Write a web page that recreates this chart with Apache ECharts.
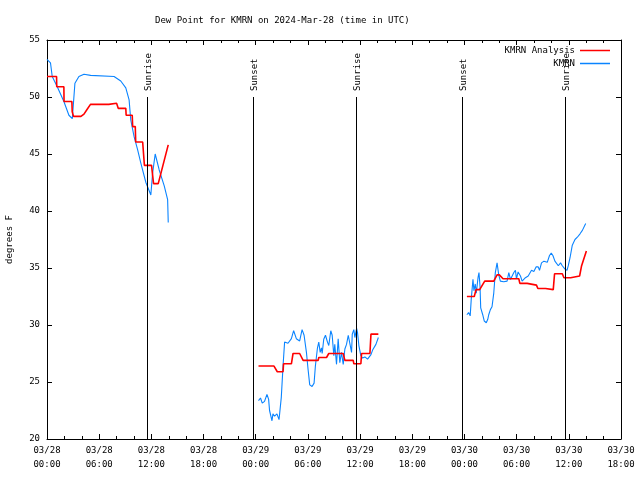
<!DOCTYPE html>
<html>
<head>
<meta charset="utf-8">
<script src="https://cdn.jsdelivr.net/npm/echarts@6/dist/echarts.min.js"></script>
<style>html,body{margin:0;padding:0;background:#fff}#c{width:640px;height:480px}</style>
</head>
<body>
<div id="c"></div>
<script>
// hours since 2024-03-28 00:00 UTC
const anaHours = [0,1.10,1.12,1.94,1.96,2.86,2.90,3.05,3.9,4.25,4.6,5.0,7.1,7.3,8.0,8.2,9.06,9.1,9.8,9.85,10.15,10.2,11.0,11.2,12.02,12.25,12.79,13.94,
  19,
  24.32,26.10,26.48,27.14,27.2,28.10,28.29,29.05,29.45,31.18,31.25,32.14,32.40,34.06,34.25,35.21,35.28,36.09,36.17,37.13,37.25,38.10,
  43,
  48.28,49.13,49.33,49.75,50.33,51.37,51.75,52.01,52.44,54.25,54.37,55.21,55.27,56.28,56.44,57.32,57.40,58.21,58.36,59.25,59.44,60.21,60.40,61.24,61.47,62.02];
const anaTemps = [51.8,51.8,50.9,50.9,49.6,49.6,48.7,48.3,48.3,48.5,48.9,49.35,49.35,49.45,49.45,49.0,49.0,48.4,48.4,47.4,47.4,46.05,46.05,44.0,44.0,42.4,42.4,45.8,
  null,
  26.4,26.4,25.9,25.9,26.6,26.6,27.5,27.5,26.9,26.9,27.15,27.15,27.5,27.5,26.9,26.9,26.6,26.6,27.5,27.5,29.2,29.2,
  null,
  32.5,32.5,33.1,33.1,33.85,33.85,34.4,34.4,34.06,34.06,33.65,33.65,33.5,33.5,33.2,33.2,33.1,33.1,34.5,34.5,34.15,34.15,34.3,34.3,35.2,36.5];

const obsHours = [0,0.40,0.60,1.18,1.94,2.52,2.91,3.09,3.21,3.67,4.25,5.02,7.71,8.48,9.06,9.44,9.63,10.02,10.41,10.79,11.37,11.94,12.14,12.44,12.90,13.48,13.87,13.94,
  19,
  24.32,24.55,24.75,25.01,25.29,25.48,25.59,25.87,25.98,26.17,26.44,26.68,26.79,26.94,27.14,27.32,27.71,28.10,28.36,28.67,29.05,29.33,29.56,29.83,30.02,30.21,30.48,30.71,30.86,31.10,31.25,31.41,31.56,31.64,31.82,32.02,32.25,32.40,32.63,32.79,32.98,33.09,33.29,33.48,33.67,33.86,34.06,34.25,34.44,34.64,34.82,35.02,35.10,35.28,35.40,35.60,35.71,35.86,36.09,36.29,36.55,36.86,37.01,37.25,37.44,37.64,37.82,38.10,
  43,
  48.28,48.48,48.66,48.78,48.98,49.09,49.24,49.36,49.56,49.67,49.79,49.87,50.10,50.28,50.51,50.68,50.79,50.98,51.17,51.37,51.55,51.75,51.94,52.13,52.52,52.90,53.10,53.29,53.48,53.68,53.86,53.98,54.17,54.44,54.63,55.01,55.33,55.48,55.71,55.98,56.25,56.48,56.63,56.86,57.14,57.32,57.52,57.78,57.98,58.17,58.40,58.59,58.79,59.05,59.25,59.44,59.56,59.79,59.94,60.14,60.40,60.71,60.98,61.29,61.56,61.94];
const obsTemps = [53.3,53.0,51.8,50.9,49.6,48.4,48.1,48.1,51.2,51.8,52.0,51.9,51.8,51.4,50.8,49.75,48.0,46.5,45.4,44.2,42.5,41.4,43.3,45.0,43.6,42.2,41.0,39.0,
  null,
  23.36,23.6,23.15,23.3,23.9,23.5,22.5,21.6,22.2,22.0,22.2,21.7,21.55,23.65,26.4,28.5,28.4,28.8,29.5,28.8,28.6,29.6,29.1,27.6,26.1,24.75,24.6,24.9,26.4,28.0,28.5,27.6,28.0,27.5,28.75,29.1,28.5,28.2,29.5,29.1,27.3,28.3,26.55,28.8,26.7,27.6,26.55,27.9,28.3,29.1,29.2,27.6,29.2,29.6,28.9,29.7,29.3,28.2,27.3,27.1,27.2,27.0,26.9,27.4,27.8,27.7,28.3,28.9,
  null,
  30.9,31.1,30.8,32.25,34.0,33.0,33.6,32.8,34.15,34.6,33.4,31.5,30.9,30.35,30.2,30.5,30.9,31.35,31.6,32.8,34.6,35.45,34.4,33.85,33.8,33.85,34.6,34.0,34.05,34.6,34.8,34.05,34.65,34.3,33.85,34.15,34.3,34.15,34.8,34.7,35.1,35.1,34.8,35.45,35.6,35.75,35.5,36.1,36.3,36.1,35.6,35.75,35.2,35.45,35.2,35.3,34.9,34.8,35.2,35.9,37.0,37.5,37.7,38.0,38.3,38.9];

const sunHours = [11.48, 23.65, 35.5, 47.75, 59.6];
const sunLabels = ['Sunrise','Sunset','Sunrise','Sunset','Sunrise'];
const sunLineTop = 50;

const FONT = 'DejaVu Sans Mono';
const FS = 9;

function zip(xs, ys){ return xs.map((x,i)=>[x, ys[i]===null ? '-' : ys[i]]); }
function xLabel(v){
  const day = 28 + Math.floor(v/24);
  const hh = v % 24;
  return '03/' + day + '\n' + (hh<10?'0':'') + hh + ':00';
}

const chart = echarts.init(document.getElementById('c'), null, {renderer:'canvas'});
const xBase = {type:'value', min:0, max:66, interval:6,
  axisLine:{show:true, onZero:false, lineStyle:{color:'#000', width:1}},
  axisTick:{show:true, inside:true, length:5, lineStyle:{color:'#000'}},
  minorTick:{show:true, splitNumber:3, length:3, lineStyle:{color:'#000'}},
  splitLine:{show:false}};
const yBase = {type:'value', min:20, max:55, interval:5,
  axisLine:{show:true, onZero:false, lineStyle:{color:'#000', width:1}},
  axisTick:{show:true, inside:true, length:5, lineStyle:{color:'#000'}},
  splitLine:{show:false}};

chart.setOption({
  animation:false,
  backgroundColor:'#fff',
  textStyle:{fontFamily:FONT, fontSize:FS, color:'#000'},
  title:{text:'Dew Point for KMRN on 2024-Mar-28 (time in UTC)', left:150, top:11,
    textStyle:{fontFamily:FONT, fontSize:FS, fontWeight:'normal', color:'#000'}},
  legend:{orient:'vertical', right:25, top:41, align:'right', itemWidth:30, itemHeight:1.5, itemGap:4,
    icon:'rect', data:['KMRN Analysis','KMRN'],
    textStyle:{fontFamily:FONT, fontSize:FS, color:'#000'}},
  grid:{left:47, right:19, top:40, bottom:41, containLabel:false, outerBoundsMode:'none'},
  xAxis:[
    Object.assign({}, xBase, {position:'bottom',
      axisLabel:{show:true, formatter:xLabel, margin:5, lineHeight:14, fontFamily:FONT, fontSize:FS, color:'#000'}}),
    Object.assign({}, xBase, {position:'top', axisLabel:{show:false}})
  ],
  yAxis:[
    Object.assign({}, yBase, {position:'left', name:'degrees F', nameLocation:'middle', nameGap:33,
      nameTextStyle:{fontFamily:FONT, fontSize:FS, color:'#000'},
      axisLabel:{show:true, margin:7, fontFamily:FONT, fontSize:FS, color:'#000'}}),
    Object.assign({}, yBase, {position:'right', axisLabel:{show:false}})
  ],
  series:[
    {name:'KMRN Analysis', type:'line', data:zip(anaHours, anaTemps), showSymbol:false, connectNulls:false,
      color:'#ff0000', lineStyle:{color:'#ff0000', width:1.6}, z:3},
    {name:'KMRN', type:'line', data:zip(obsHours, obsTemps), showSymbol:false, connectNulls:false,
      color:'#0a84ff', lineStyle:{color:'#0a84ff', width:1.1}, z:2},
    {name:'sun', type:'custom', data:sunHours.map(h=>[h]), z:4, silent:true,
      renderItem:function(params, api){
        const h = api.value(0);
        const p0 = api.coord([h, 20]);
        const p1 = api.coord([h, sunLineTop]);
        const x = Math.round(p0[0]) + 0.5;
        return {type:'group', children:[
          {type:'line', shape:{x1:x, y1:p0[1], x2:x, y2:p1[1]}, style:{stroke:'#000', lineWidth:1}},
          {type:'text', x:x+1, y:p1[1]-6, rotation:Math.PI/2,
            style:{text:sunLabels[params.dataIndex], fill:'#000', font: FS + 'px "' + FONT + '"',
              align:'left', verticalAlign:'middle', textAlign:'left', textVerticalAlign:'middle'}}
        ]};
      }}
  ]
});
</script>
</body>
</html>
